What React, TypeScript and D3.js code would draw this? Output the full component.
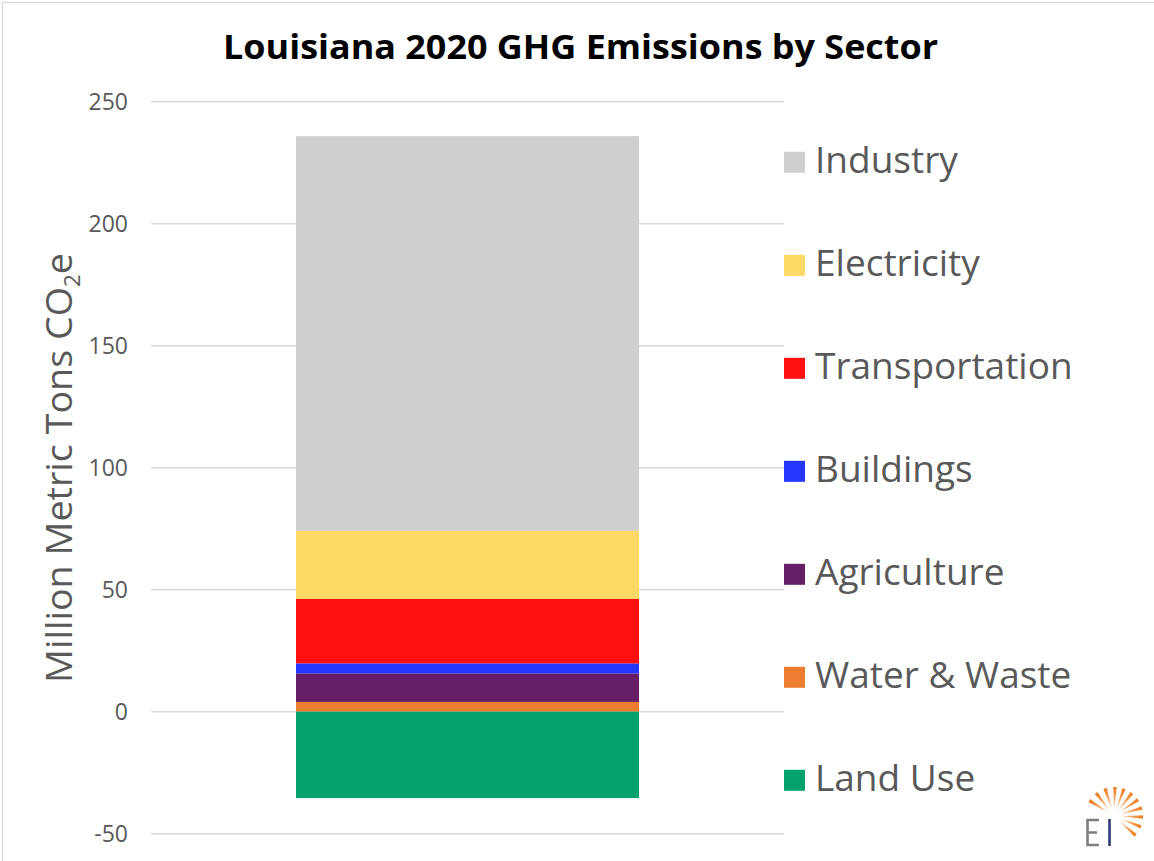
import React, { useEffect } from "react";
import * as d3 from "d3";

// Sectors listed top-to-bottom as in the legend
const sectors = [
  "Industry",
  "Electricity",
  "Transportation",
  "Buildings",
  "Agriculture",
  "Water & Waste",
  "Land Use",
];

// Million metric tons CO2e, 2020
const emissions = [161.8, 27.9, 26.5, 4.1, 11.6, 4.0, -35.4];

const sectorColors = [
  "#D0CECE",
  "#FFD966",
  "#FF1010",
  "#2436FF",
  "#661F66",
  "#ED7D31",
  "#03A26C",
];

const yTicks = [-50, 0, 50, 100, 150, 200, 250];
const categories = ["2020"];

const W = 1154;
const H = 861;
const FONT = "'Open Sans', 'DejaVu Sans', sans-serif";

// sunburst ray directions for the logo (degrees, 0 = east, negative = up)
const rayAngles = [-148, -128, -108, -88, -70, -52, -34, -16, 2, 22, 42];

export default function App() {
  useEffect(() => {
    document.body.style.margin = "0";
  }, []);

  const y = d3.scaleLinear().domain([-50, 250]).range([833.7, 101.7]);
  const x = d3
    .scaleBand<string>()
    .domain(categories)
    .range([151, 784])
    .paddingInner(0)
    .paddingOuter(0.4227);

  const row: Record<string, number | string> = { category: categories[0] };
  sectors.forEach((s, i) => (row[s] = emissions[i]));

  const series = d3
    .stack<any>()
    .keys(sectors)
    .order(d3.stackOrderReverse)
    .offset(d3.stackOffsetDiverging)([row]);

  const color = d3.scaleOrdinal<string, string>().domain(sectors).range(sectorColors);

  const legendY = (i: number) => 162.3 + i * 103;

  // logo geometry
  const cx = 1114;
  const cy = 816;
  const rayPath = (deg: number) => {
    const a = (deg * Math.PI) / 180;
    const r1 = 7;
    const r2 = 29;
    const w = 1.8;
    const ux = Math.cos(a);
    const uy = Math.sin(a);
    const px = -uy;
    const py = ux;
    const p0 = [cx + ux * r1, cy + uy * r1];
    const p1 = [cx + ux * r2 + px * w, cy + uy * r2 + py * w];
    const p2 = [cx + ux * r2 - px * w, cy + uy * r2 - py * w];
    return `M${p0[0]},${p0[1]}L${p1[0]},${p1[1]}L${p2[0]},${p2[1]}Z`;
  };

  return (
    <svg
      width={W}
      height={H}
      viewBox={`0 0 ${W} ${H}`}
      style={{ display: "block", background: "#fff" }}
    >
      <rect x={0} y={0} width={W} height={H} fill="#fff" />
      <rect
        x={2.5}
        y={2.5}
        width={W + 20}
        height={H + 20}
        fill="none"
        stroke="#d9d9d9"
        strokeWidth={1.3}
      />

      {/* title */}
      <text
        x={580.5}
        y={58.5}
        textAnchor="middle"
        fontFamily={FONT}
        fontWeight={700}
        fontSize={34}
        fill="#000"
        textLength={715}
        lengthAdjust="spacingAndGlyphs"
      >
        Louisiana 2020 GHG Emissions by Sector
      </text>

      {/* gridlines */}
      <g>
        {yTicks.map((t) => (
          <line
            key={t}
            x1={151}
            x2={784}
            y1={y(t)}
            y2={y(t)}
            stroke="#d9d9d9"
            strokeWidth={1.4}
          />
        ))}
      </g>

      {/* tick labels */}
      <g fontFamily={FONT} fontSize={23} fill="#595959" textAnchor="end">
        {yTicks.map((t) => (
          <text key={t} x={128} y={y(t) + 8.3}>
            {String(t)}
          </text>
        ))}
      </g>

      {/* y-axis title */}
      <text
        transform={`translate(71.5, 468) rotate(-90)`}
        textAnchor="middle"
        fontFamily={FONT}
        fontSize={37}
        fill="#595959"
        textLength={430}
        lengthAdjust="spacingAndGlyphs"
      >
        Million Metric Tons CO
        <tspan fontSize={22} dy={8}>
          2
        </tspan>
        <tspan dy={-8}>e</tspan>
      </text>

      {/* stacked bar */}
      <g>
        {series.map((s) =>
          s.map((d, j) => (
            <rect
              key={`${s.key}-${j}`}
              x={x(categories[j])}
              width={x.bandwidth()}
              y={y(Math.max(d[0], d[1]))}
              height={Math.abs(y(d[0]) - y(d[1]))}
              fill={color(s.key)}
            />
          ))
        )}
      </g>

      {/* legend */}
      <g fontFamily={FONT} fontSize={37} fill="#595959">
        {sectors.map((s, i) => (
          <g key={s}>
            <rect x={784} y={legendY(i) - 10.5} width={21} height={21} fill={color(s)} />
            <text x={815} y={legendY(i) + 11}>
              {s}
            </text>
          </g>
        ))}
      </g>

      {/* logo */}
      <defs>
        <radialGradient id="rayGrad" gradientUnits="userSpaceOnUse" cx={cx} cy={cy} r={30}>
          <stop offset="0.2" stopColor="#FBE0C8" />
          <stop offset="0.6" stopColor="#F5A25A" />
          <stop offset="1" stopColor="#EC7A1E" />
        </radialGradient>
      </defs>
      <g>
        {rayAngles.map((a) => (
          <path key={a} d={rayPath(a)} fill="url(#rayGrad)" />
        ))}
        <path
          d="M1099,820 H1087.5 V845 H1099 M1087.5,832.5 H1097"
          fill="none"
          stroke="#7f7f7f"
          strokeWidth={2.6}
        />
        <line x1={1109.5} x2={1109.5} y1={819} y2={846} stroke="#2F3C73" strokeWidth={2.6} />
      </g>
    </svg>
  );
}
